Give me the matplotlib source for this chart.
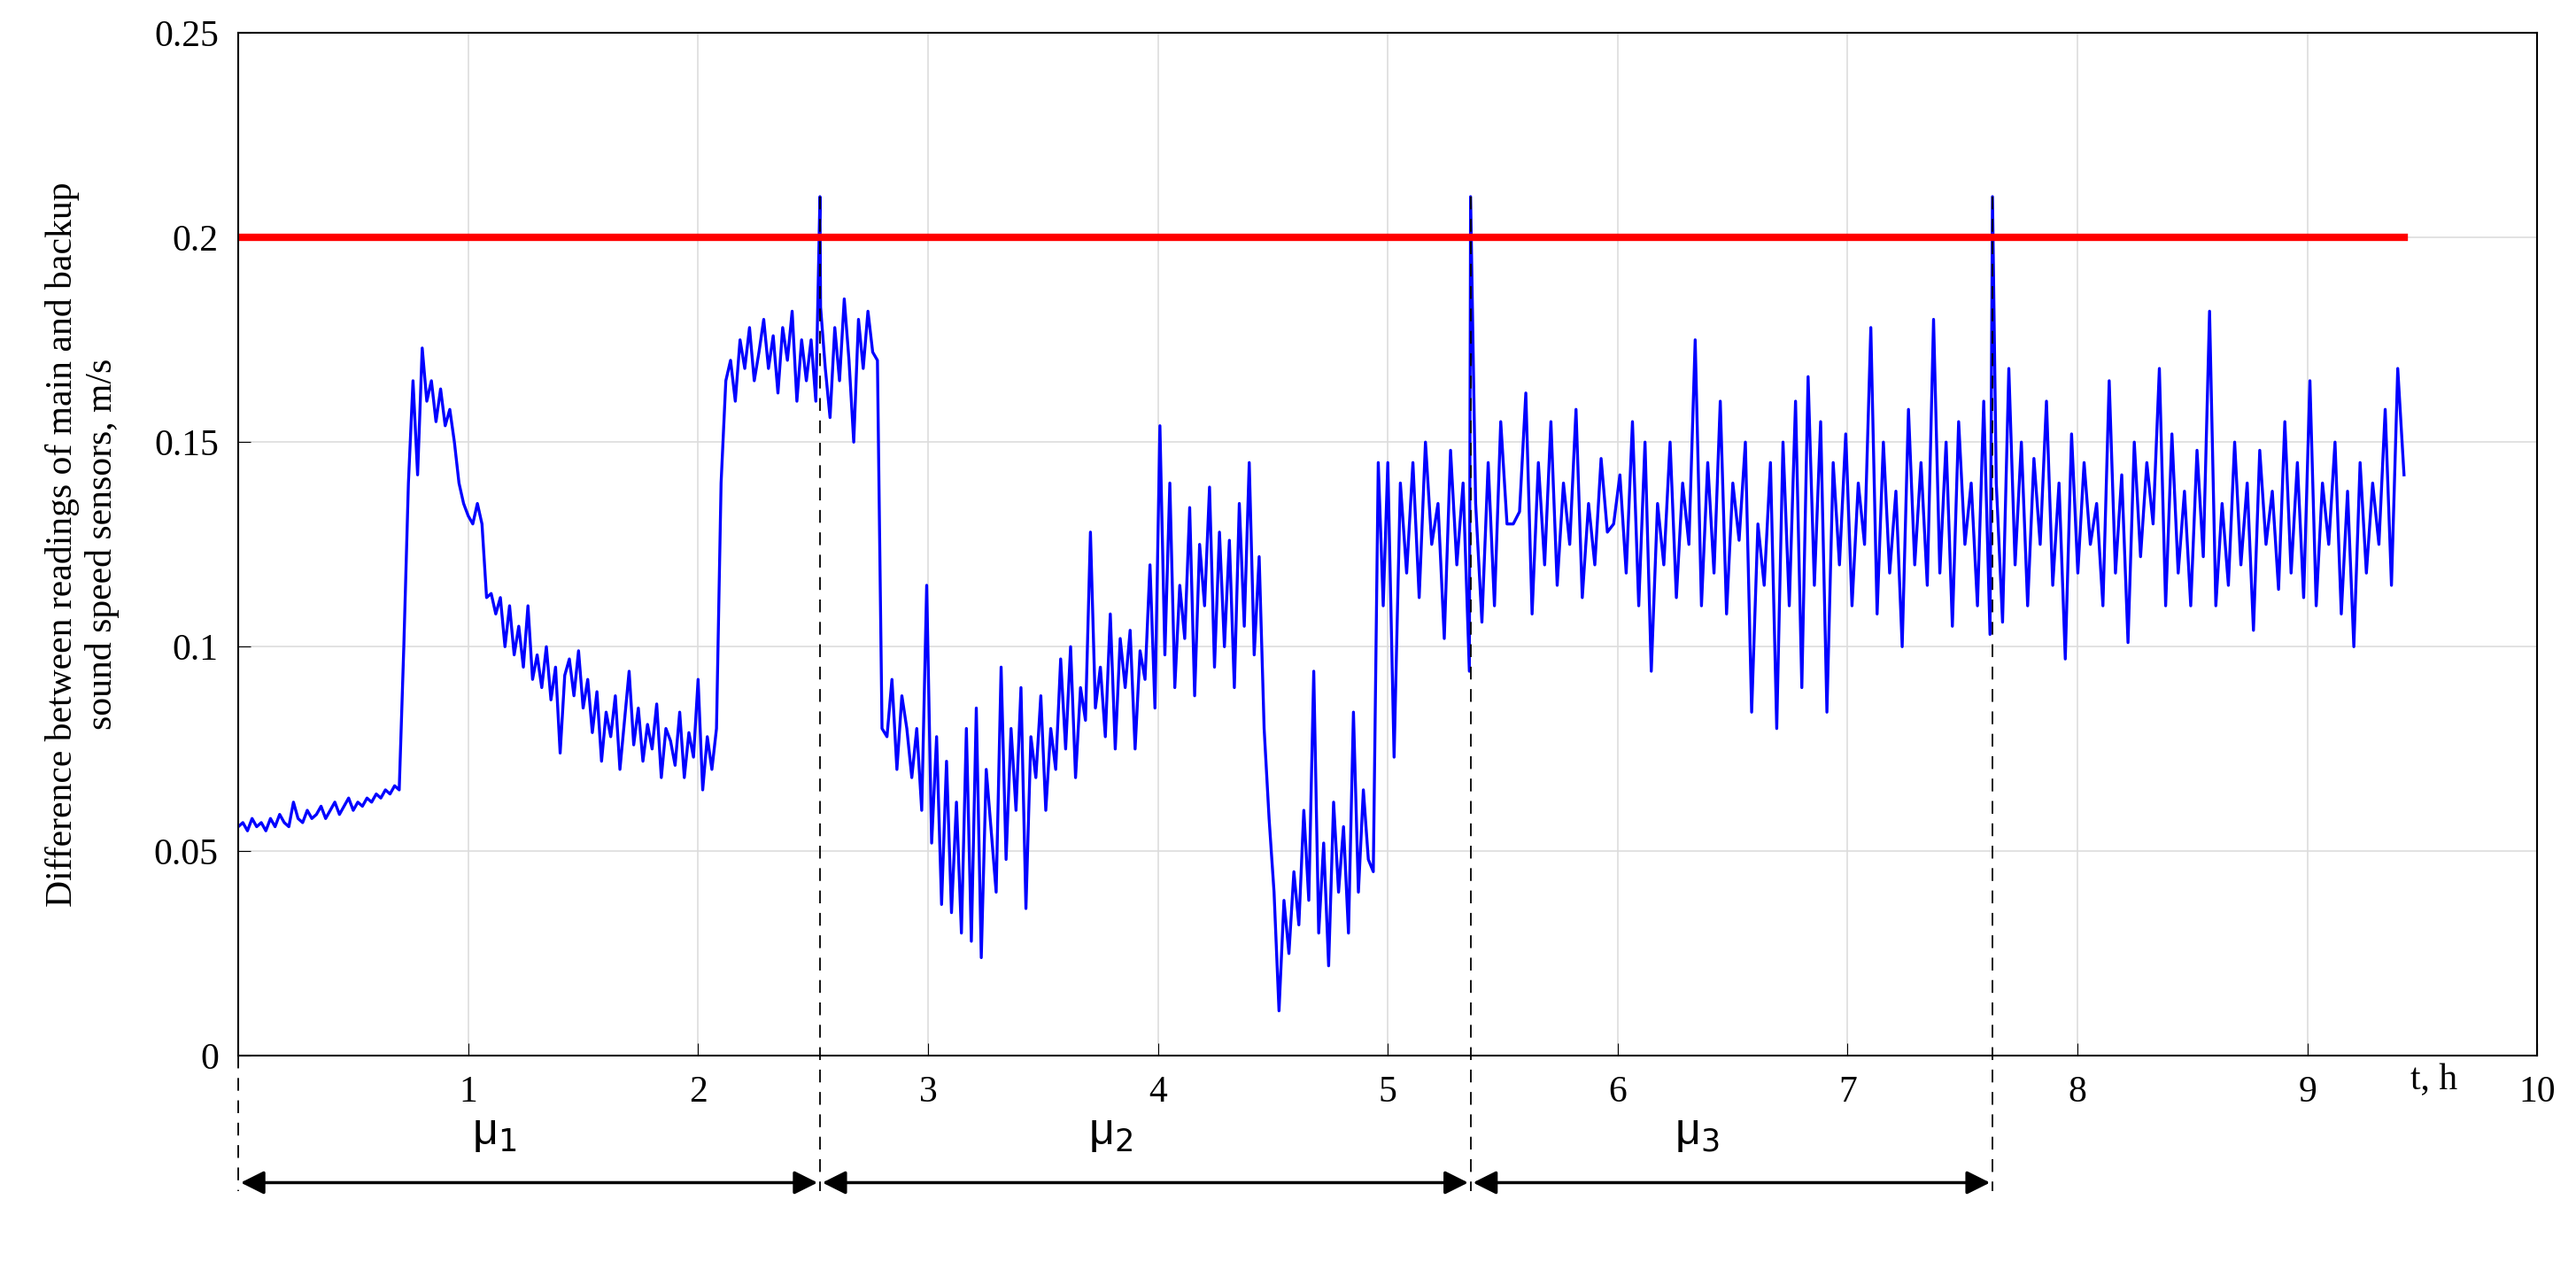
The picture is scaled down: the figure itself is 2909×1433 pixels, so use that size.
import matplotlib.pyplot as plt
import numpy as np

plt.rcParams['font.family'] = ['Liberation Serif', 'DejaVu Serif']

# segment values
seg1 = [0.056, 0.057, 0.055, 0.058, 0.056, 0.057, 0.055, 0.058, 0.056, 0.059, 0.057, 0.056,
        0.062, 0.058, 0.057, 0.060, 0.058, 0.059, 0.061, 0.058, 0.060, 0.062, 0.059, 0.061,
        0.063, 0.060, 0.062, 0.061, 0.063, 0.062, 0.064, 0.063, 0.065, 0.064, 0.066, 0.065]
seg2 = [0.100, 0.140, 0.165, 0.142, 0.173, 0.160, 0.165, 0.155, 0.163, 0.154, 0.158, 0.150,
        0.140, 0.135, 0.132, 0.130, 0.135, 0.130, 0.112, 0.113, 0.108, 0.112, 0.100, 0.110,
        0.098, 0.105, 0.095, 0.110, 0.092, 0.098, 0.090, 0.100, 0.087, 0.095, 0.074, 0.093,
        0.097, 0.088, 0.099, 0.085, 0.092, 0.079, 0.089, 0.072, 0.084, 0.078, 0.088, 0.070,
        0.082, 0.094, 0.076, 0.085, 0.072, 0.081, 0.075, 0.086, 0.068, 0.080, 0.077, 0.071,
        0.084, 0.068, 0.079, 0.073, 0.092, 0.065, 0.078, 0.070, 0.080]
seg3 = [0.140, 0.165, 0.170, 0.160, 0.175, 0.168, 0.178, 0.165, 0.172, 0.180, 0.168, 0.176,
        0.162, 0.178, 0.170, 0.182, 0.160, 0.175, 0.165, 0.175, 0.160, 0.183, 0.168, 0.156,
        0.178, 0.165, 0.185, 0.170, 0.150, 0.180, 0.168, 0.182, 0.172, 0.170]
seg4 = [0.080, 0.078, 0.092, 0.070, 0.088, 0.080, 0.068, 0.080, 0.060, 0.115, 0.052, 0.078,
        0.037, 0.072, 0.035, 0.062, 0.030, 0.080, 0.028, 0.085, 0.024, 0.070, 0.055, 0.040,
        0.095, 0.048, 0.080, 0.060, 0.090, 0.036, 0.078, 0.068, 0.088, 0.060, 0.080, 0.070,
        0.097, 0.075, 0.100, 0.068, 0.090, 0.082, 0.128, 0.085, 0.095, 0.078, 0.108, 0.075,
        0.102, 0.090, 0.104, 0.075, 0.099, 0.092, 0.120, 0.085, 0.154, 0.098, 0.140, 0.090,
        0.115, 0.102, 0.134, 0.088, 0.125, 0.110, 0.139, 0.095, 0.128, 0.100, 0.126, 0.090,
        0.135, 0.105, 0.145, 0.098, 0.122, 0.080, 0.058, 0.040, 0.011, 0.038, 0.025, 0.045,
        0.032, 0.060, 0.038, 0.094, 0.030, 0.052, 0.022, 0.062, 0.040, 0.056, 0.030, 0.084,
        0.040, 0.065, 0.048, 0.045, 0.145, 0.110]
seg5 = [0.145, 0.073, 0.140, 0.118, 0.145, 0.112, 0.150, 0.125, 0.135, 0.102, 0.148, 0.120,
        0.140, 0.094, 0.135, 0.106, 0.145, 0.110, 0.155, 0.130, 0.130, 0.133, 0.162, 0.108,
        0.145, 0.120, 0.155, 0.115, 0.140, 0.125, 0.158, 0.112, 0.135, 0.120, 0.146, 0.128,
        0.130, 0.142, 0.118, 0.155, 0.110, 0.150, 0.094, 0.135, 0.120, 0.150, 0.112, 0.140,
        0.125, 0.175, 0.110, 0.145, 0.118, 0.160, 0.108, 0.140, 0.126, 0.150, 0.084, 0.130,
        0.115, 0.145, 0.080, 0.150, 0.110, 0.160, 0.090, 0.166, 0.115, 0.155, 0.084, 0.145,
        0.120, 0.152, 0.110, 0.140, 0.125, 0.178, 0.108, 0.150, 0.118, 0.138, 0.100, 0.158,
        0.120, 0.145, 0.115, 0.180, 0.118, 0.150, 0.105, 0.155, 0.125, 0.140, 0.110, 0.160,
        0.103, 0.140, 0.106, 0.168, 0.120, 0.150, 0.110, 0.146, 0.125, 0.160, 0.115, 0.140,
        0.097, 0.152, 0.118, 0.145, 0.125, 0.135, 0.110, 0.165, 0.118, 0.142, 0.101, 0.150,
        0.122, 0.145, 0.130, 0.168, 0.110, 0.152, 0.118, 0.138, 0.110, 0.148, 0.122, 0.182,
        0.110, 0.135, 0.115, 0.150, 0.120, 0.140, 0.104, 0.148, 0.125, 0.138, 0.114, 0.155,
        0.118, 0.145, 0.112, 0.165, 0.110, 0.140, 0.125, 0.150, 0.108, 0.138, 0.100, 0.145,
        0.118, 0.140, 0.125, 0.158, 0.115, 0.168, 0.142]
threshold = 0.2
boundaries = [2.53, 5.36, 7.63]
spike_values = [0.21, 0.21, 0.21]
mu_labels = ['1', '2', '3']

t1 = np.linspace(0.0, 0.70, len(seg1))
t2 = np.linspace(0.72, 2.08, len(seg2))
t3 = np.linspace(2.10, 2.78, len(seg3))
t4 = np.linspace(2.80, 4.98, len(seg4))
t5 = np.linspace(5.00, 9.42, len(seg5))
t = np.concatenate([t1, t2, t3, t4, t5, boundaries])
y = np.concatenate([seg1, seg2, seg3, seg4, seg5, spike_values])
order = np.argsort(t)
t, y = t[order], y[order]

fig = plt.figure(figsize=(29.09, 14.33), dpi=100)
ax = fig.add_axes([0.0925, 0.168, 0.8925, 0.806])
ax.plot(t, y, color='blue', linewidth=2.4)
ax.plot([0, 9.42], [threshold, threshold], color='red', linewidth=6)
ax.set_xlim(0, 10)
ax.set_ylim(0, 0.25)
ax.set_xticks(range(1, 11))
ax.set_yticks([0, 0.05, 0.1, 0.15, 0.2, 0.25])
ax.set_yticklabels(['0', '0.05', '0.1', '0.15', '0.2', '0.25'])
ax.tick_params(labelsize=30, direction='in', length=10, pad=16)
ax.grid(True, color='#dddddd', linewidth=1.2)
for s in ax.spines.values():
    s.set_linewidth(1.5)
ax.set_ylabel('Difference between readings of main and backup\nsound speed sensors, m/s',
              fontsize=30, labelpad=28)
ax.text(9.55, -0.006, 't, h', fontsize=30, ha='center', va='center', clip_on=False)

# dashed boundaries and arrows
for b, top in zip([0] + boundaries, [0] + spike_values):
    ax.plot([b, b], [top, -0.033], color='black', linestyle=(0, (8, 6)), linewidth=1.3,
            clip_on=False)
edges = [0] + boundaries
for i in range(3):
    ax.annotate('', xy=(edges[i + 1], -0.031), xytext=(edges[i], -0.031),
                arrowprops=dict(arrowstyle='<|-|>', color='black', lw=2.5, mutation_scale=40),
                annotation_clip=False)
    ax.text((edges[i] + edges[i + 1]) / 2 - 0.15, -0.019, '\u03bc$_{%s}$' % mu_labels[i],
            fontsize=36, family='Liberation Sans', ha='center', va='center', clip_on=False)

fig.savefig('out.png', dpi=100)
